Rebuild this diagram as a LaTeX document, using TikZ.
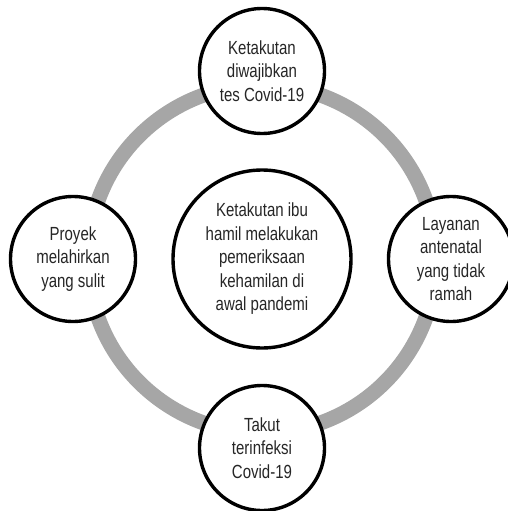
\documentclass[tikz,border=0pt]{standalone}
\usepackage{fontspec}
\setmainfont{Liberation Sans}[FakeStretch=0.79]
\definecolor{ringgray}{HTML}{A6A6A6}
\definecolor{txtgray}{HTML}{262626}
\tikzset{
  topic/.style={circle, draw=black, line width=3.4pt, fill=white,
    minimum size=#1, inner sep=0pt, align=center, text=txtgray,
    font=\fontsize{19}{23.5}\selectfont},
  topic/.default=125pt,
  cycle ring/.style={draw=ringgray, line width=15pt}
}
\begin{document}
\begin{tikzpicture}[x=1pt, y=-1pt]
  \useasboundingbox (0,0) rectangle (508,511);
  \clip (0,0) rectangle (508,511);
  \coordinate (c) at (262,259);
  % grey cycle behind the circles
  \draw[cycle ring] (c) circle (174pt);
  % central topic
  \node[topic=178pt] (core) at (c) {Ketakutan ibu\\hamil melakukan\\pemeriksaan\\kehamilan di\\awal pandemi};
  % surrounding factors
  \node[topic] (tes) at (262,71) {Ketakutan\\diwajibkan\\tes Covid-19};
  \node[topic] (proyek) at (73,259) {Proyek\\melahirkan\\yang sulit};
  \node[topic] (layanan) at (451,259) {Layanan\\antenatal\\yang tidak\\ramah};
  \node[topic] (takut) at (262,448) {Takut\\terinfeksi\\Covid-19};
\end{tikzpicture}
\end{document}
